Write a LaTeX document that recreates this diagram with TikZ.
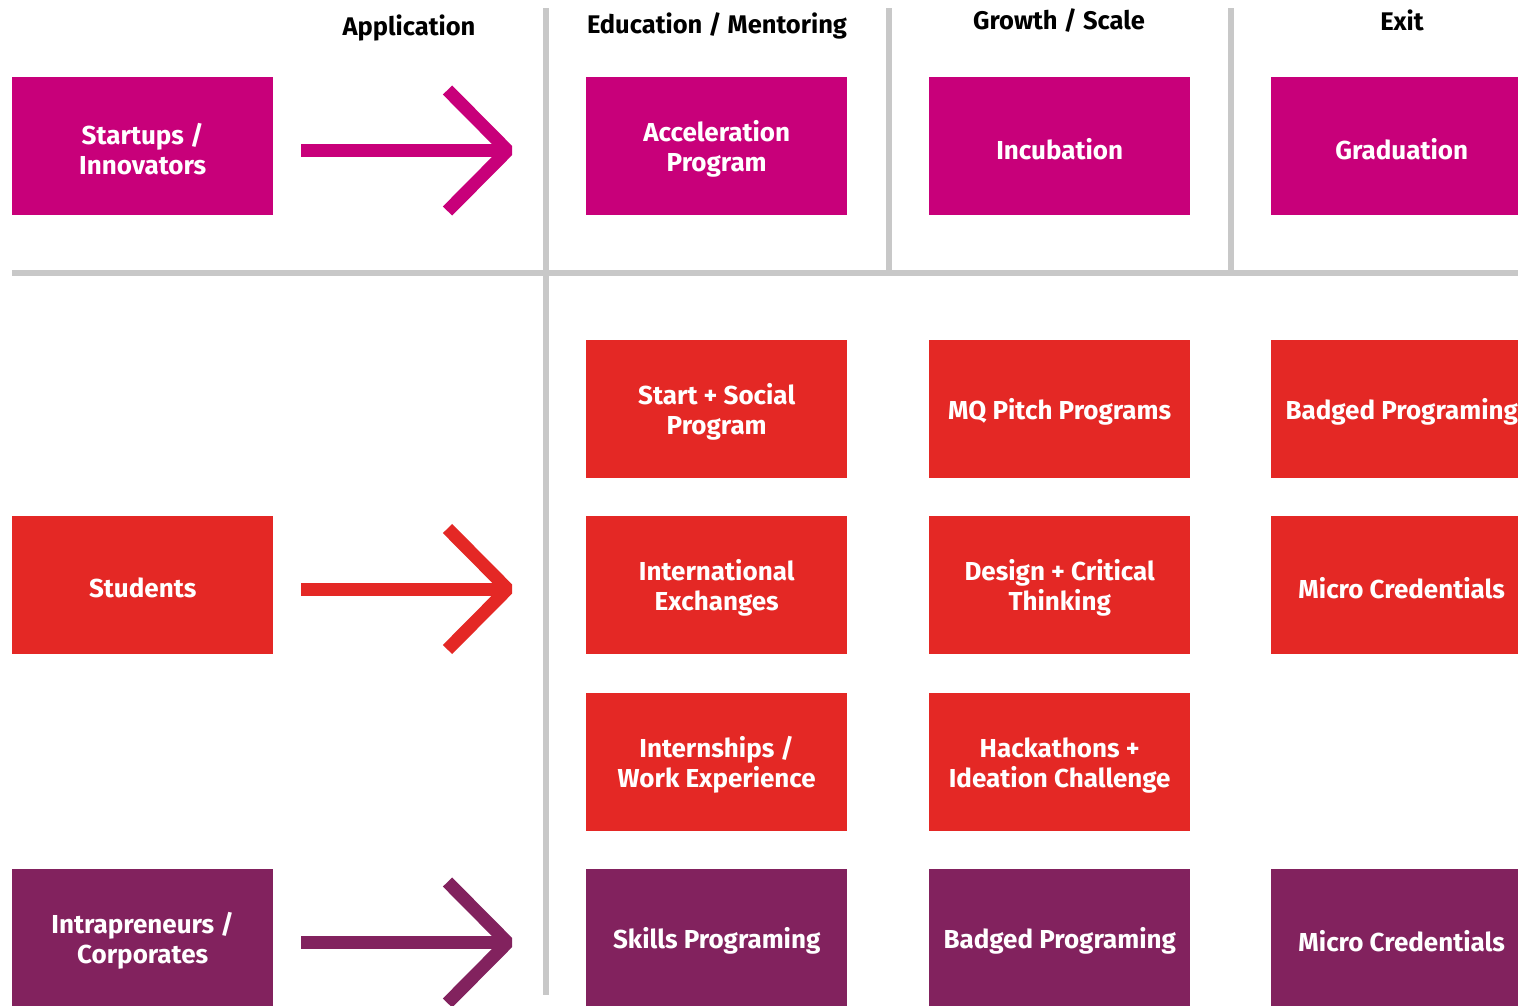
\documentclass[tikz,border=0pt]{standalone}
\usepackage{fontspec}
\setmainfont{Fira Sans}
\definecolor{mqmag}{HTML}{C8007A}
\definecolor{mqred}{HTML}{E42825}
\definecolor{mqpur}{HTML}{82225E}
\definecolor{gridgray}{HTML}{C8C8C8}
\begin{document}
\begin{tikzpicture}[x=1pt,y=-1pt,
  boxtext/.style={text=white, align=center, inner sep=0pt, font=\bfseries\fontsize{26}{30}\selectfont},
  box/.style={anchor=north west, minimum width=261pt, minimum height=138pt, inner sep=0pt,
    label={[boxtext, yshift=-3pt]center:{#1}}},
  magbox/.style={box={#1}, fill=mqmag},
  redbox/.style={box={#1}, fill=mqred},
  purbox/.style={box={#1}, fill=mqpur},
  header/.style={font=\bfseries\fontsize{25.5}{30}\selectfont, text=black},
  grid/.style={draw=gridgray, line width=6pt},
  bigarrow/.style={line width=13pt, line join=bevel}
]
\clip (0,0) rectangle (1518,1005);
\fill[white] (0,0) rectangle (1518,1005);

% grid lines
\coordinate (v1t) at (545.5,8);  \coordinate (v1b) at (545.5,995);
\coordinate (v2t) at (888.5,8);  \coordinate (v2b) at (888.5,270);
\coordinate (v3t) at (1230.5,8); \coordinate (v3b) at (1230.5,270);
\coordinate (hl) at (12,273.3);  \coordinate (hr) at (1518,273.3);
\draw[grid] (v1t) -- (v1b);
\draw[grid] (v2t) -- (v2b);
\draw[grid] (v3t) -- (v3b);
\draw[grid] (hl) -- (hr);

% headers
\node[header] (hApp) at (409,27.5) {Application};
\node[header] (hEdu) at (717,26) {Education / Mentoring};
\node[header] (hGro) at (1059,21) {Growth / Scale};
\node[header] (hExit) at (1402,20) {Exit};

% row 1
\node[magbox={Startups /\\Innovators}] (startups) at (12,77) {};
\node[magbox={Acceleration\\Program}] (accel) at (586,77) {};
\node[magbox={Incubation}] (incub) at (929,77) {};
\node[magbox={Graduation}] (grad) at (1271,77) {};

% students rows
\node[redbox={Start + Social\\Program}] (start) at (586,340) {};
\node[redbox={MQ Pitch Programs}] (pitch) at (929,340) {};
\node[redbox={Badged Programing}] (badged1) at (1271,340) {};

\node[redbox={Students}] (students) at (12,516) {};
\node[redbox={International\\Exchanges}] (intl) at (586,516) {};
\node[redbox={Design + Critical\\Thinking}] (design) at (929,516) {};
\node[redbox={Micro Credentials}] (micro1) at (1271,516) {};

\node[redbox={Internships /\\Work Experience}] (intern) at (586,693) {};
\node[redbox={Hackathons +\\Ideation Challenge}] (hack) at (929,693) {};

% corporates row
\node[purbox={Intrapreneurs /\\Corporates}] (intra) at (12,869) {};
\node[purbox={Skills Programing}] (skills) at (586,869) {};
\node[purbox={Badged Programing}] (badged2) at (929,869) {};
\node[purbox={Micro Credentials}] (micro2) at (1271,869) {};

% arrows
\foreach \y/\c/\n in {150.5/mqmag/a, 589/mqred/b, 942.5/mqpur/c}{
  \coordinate (\n s) at (301,\y);
  \coordinate (\n e) at (504,\y);
  \coordinate (\n tip) at (507.5,\y);
  \coordinate (\n up) at (447.5,\y-60.5);
  \coordinate (\n dn) at (447.5,\y+60.5);
  \draw[bigarrow, draw=\c] (\n s) -- (\n e);
  \draw[bigarrow, draw=\c] (\n up) -- (\n tip) -- (\n dn);
}
\end{tikzpicture}
\end{document}
